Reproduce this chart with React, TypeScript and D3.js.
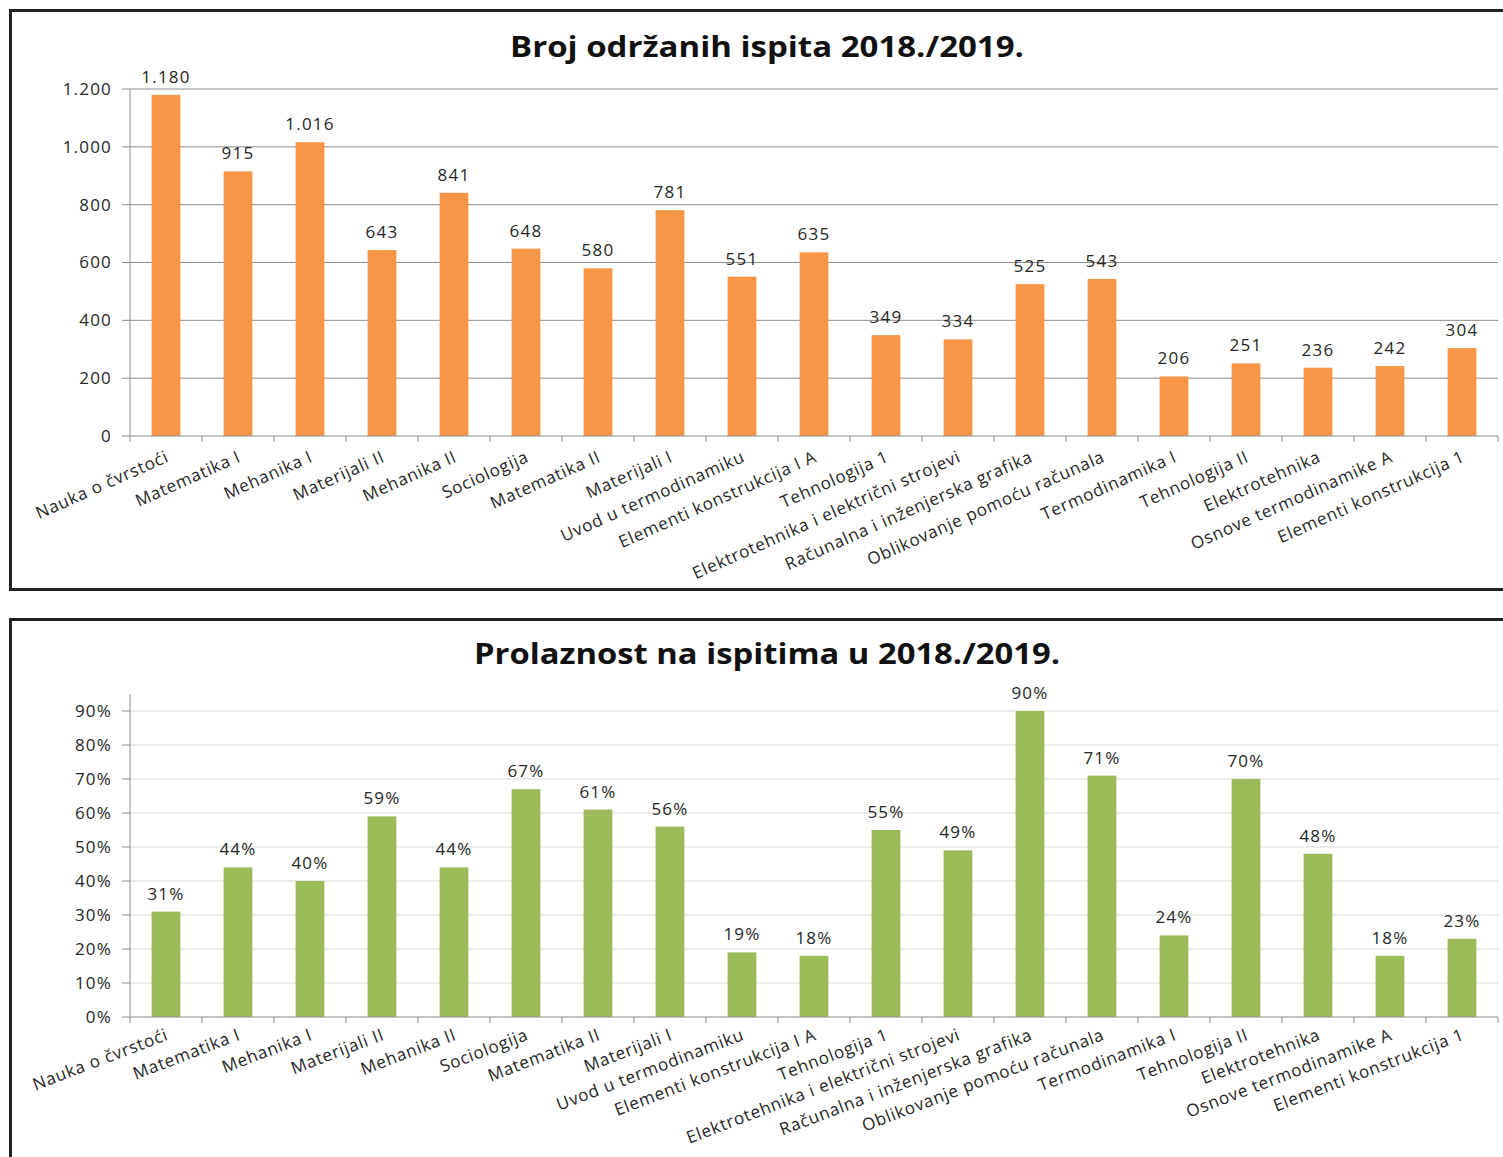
import React from "react";
import * as d3 from "d3";

const categories = [
  "Nauka o čvrstoći",
  "Matematika I",
  "Mehanika I",
  "Materijali II",
  "Mehanika II",
  "Sociologija",
  "Matematika II",
  "Materijali I",
  "Uvod u termodinamiku",
  "Elementi konstrukcija I A",
  "Tehnologija 1",
  "Elektrotehnika i električni strojevi",
  "Računalna i inženjerska grafika",
  "Oblikovanje pomoću računala",
  "Termodinamika I",
  "Tehnologija II",
  "Elektrotehnika",
  "Osnove termodinamike A",
  "Elementi konstrukcija 1",
];

const examCounts = [
  1180, 915, 1016, 643, 841, 648, 580, 781, 551, 635, 349, 334, 525, 543, 206, 251, 236, 242, 304,
];

const passRates = [
  0.31, 0.44, 0.4, 0.59, 0.44, 0.67, 0.61, 0.56, 0.19, 0.18, 0.55, 0.49, 0.9, 0.71, 0.24, 0.7, 0.48,
  0.18, 0.23,
];

const countTicks = [0, 200, 400, 600, 800, 1000, 1200];
const rateTicks = [0, 0.1, 0.2, 0.3, 0.4, 0.5, 0.6, 0.7, 0.8, 0.9];

const locale = d3.formatLocale({
  decimal: ",",
  thousands: ".",
  grouping: [3],
  currency: ["", " kn"],
});
const fmtCount = locale.format(",d");
const fmtPct = d3.format(".0%");

const FONT = "'Open Sans', sans-serif";
const TEXT = "#262626";

interface ChartProps {
  title: string;
  titleY: number;
  titleWidth: number;
  values: number[];
  ticks: number[];
  domainMax: number;
  yTop: number;
  yBottom: number;
  color: string;
  gridColor: string;
  labelAngle: number;
  labelOffset: number;
  fmt: (v: number) => string;
}

const BarChart: React.FC<ChartProps> = ({
  title,
  titleY,
  titleWidth,
  values,
  ticks,
  domainMax,
  yTop,
  yBottom,
  color,
  gridColor,
  labelAngle,
  labelOffset,
  fmt,
}) => {
  const x = d3.scaleBand<string>().domain(categories).range([130, 1498]).padding(0);
  const y = d3.scaleLinear().domain([0, domainMax]).range([yBottom, yTop]);
  const bw = x.bandwidth() * 0.4;
  const axisColor = "#8c8c8c";

  return (
    <g>
      <text
        x={767 - titleWidth / 2}
        y={titleY}
        fontFamily={FONT}
        fontWeight="bold"
        fontSize={29}
        textLength={titleWidth}
        lengthAdjust="spacingAndGlyphs"
        fill="#111"
      >
        {title}
      </text>

      {ticks.map((t) => (
        <g key={t}>
          {t > 0 && (
            <line x1={130} x2={1498} y1={y(t)} y2={y(t)} stroke={gridColor} strokeWidth={1} />
          )}
          <line x1={122} x2={130} y1={y(t)} y2={y(t)} stroke={axisColor} />
          <text
            x={112}
            y={y(t)}
            dy="0.35em"
            textAnchor="end"
            fontFamily={FONT}
            fontSize={17}
            letterSpacing={1.2}
            fill={TEXT}
          >
            {fmt(t)}
          </text>
        </g>
      ))}

      <line x1={130} x2={130} y1={y(domainMax)} y2={yBottom} stroke={axisColor} />

      {values.map((v, i) => {
        const cx = (x(categories[i]) as number) + x.bandwidth() / 2;
        return (
          <g key={categories[i]}>
            <rect x={cx - bw / 2} y={y(v)} width={bw} height={yBottom - y(v)} fill={color} />
            <text
              x={cx}
              y={y(v) - 12}
              textAnchor="middle"
              fontFamily={FONT}
              fontSize={17}
              letterSpacing={1.2}
              fill={TEXT}
            >
              {fmt(v)}
            </text>
          </g>
        );
      })}

      <line x1={130} x2={1498} y1={yBottom} y2={yBottom} stroke={axisColor} />
      {categories.map((c) => (
        <line
          key={"t" + c}
          x1={x(c) as number}
          x2={x(c) as number}
          y1={yBottom}
          y2={yBottom + 6}
          stroke={axisColor}
        />
      ))}
      <line x1={1498} x2={1498} y1={yBottom} y2={yBottom + 6} stroke={axisColor} />

      {categories.map((c) => {
        const cx = (x(c) as number) + x.bandwidth() / 2;
        return (
          <text
            key={"l" + c}
            transform={`translate(${cx - 1},${yBottom + labelOffset}) rotate(${-labelAngle})`}
            dy="0.71em"
            textAnchor="end"
            fontFamily={FONT}
            fontSize={17}
            letterSpacing={0.8}
            fill={TEXT}
          >
            {c}
          </text>
        );
      })}
    </g>
  );
};

export default function App() {
  return (
    <svg
      width={1503}
      height={1157}
      style={{ position: "absolute", left: 0, top: 0, background: "#fff" }}
    >
      <rect x={0} y={0} width={1503} height={1157} fill="#fff" />

      <rect x={10.5} y={10.5} width={1500} height={579} fill="none" stroke="#222" strokeWidth={3} />
      <rect x={10.5} y={619.5} width={1500} height={560} fill="none" stroke="#222" strokeWidth={3} />

      <BarChart
        title="Broj održanih ispita 2018./2019."
        titleY={57}
        titleWidth={514}
        values={examCounts}
        ticks={countTicks}
        domainMax={1200}
        yTop={89}
        yBottom={436}
        color="#F79646"
        gridColor="#8c8c8c"
        labelAngle={24}
        labelOffset={14}
        fmt={(v) => fmtCount(v)}
      />

      <BarChart
        title="Prolaznost na ispitima u 2018./2019."
        titleY={664}
        titleWidth={586}
        values={passRates}
        ticks={rateTicks}
        domainMax={0.95}
        yTop={694}
        yBottom={1017}
        color="#9BBB59"
        gridColor="#d9d9d9"
        labelAngle={21}
        labelOffset={11}
        fmt={(v) => fmtPct(v)}
      />
    </svg>
  );
}
